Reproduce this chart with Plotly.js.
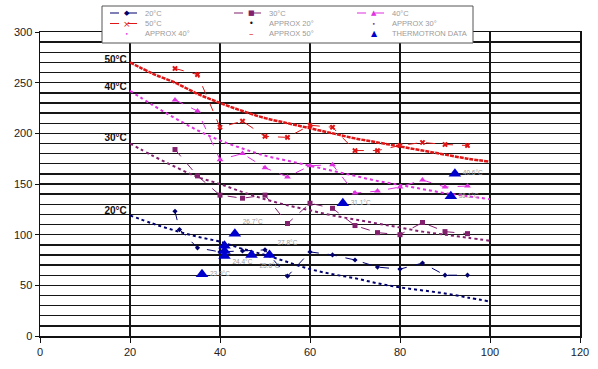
<!DOCTYPE html>
<html>
<head>
<meta charset="utf-8">
<script src="https://cdn.plot.ly/plotly-3.0.1.min.js"></script>
<style>html,body{margin:0;padding:0;background:#fff;}#chart{width:598px;height:369px;}</style>
</head>
<body>
<div id="chart"></div>
<script>
// ---- data ----
const approxX = [20,25,30,35,40,45,50,55,60,65,70,75,80,85,90,95,100];
const approx20 = [119,111,104,98,93,86,80,73,66,61,57,52,48,45,42,38,34];
const approx30 = [190,178,167,157,150,142,135,129,124,119,115,111,107,103,100,97,94];
const approx40 = [242,228,215,203,193,185,178,173,168,163,158,153,149,145,141,138,135];
const approx50 = [270,259,250,239,230,222,215,210,205,200,195,191,187,183,179,175,172];

const measX = [30,35,40,45,50,55,60,65,70,75,80,85,90,95];
const meas20X = [30,31,35,40,45,50,55,60,65,70,75,80,85,90,95];
const meas20 = [123,105,87,83,84,85,59,83,80,75,68,66,72,60,60];
const meas30 = [184,158,139,136,139,111,131,126,109,102,100,112,103,101];
const meas40 = [233,222,174,180,166,157,168,169,141,143,147,154,147,148];
const meas50 = [264,258,206,212,197,196,208,206,183,183,188,191,189,188];

const thermoX = [36,41,41,41,43.3,47,51,67.3,91.3,92.2];
const thermoY = [61,89,84,79,101,80,80,131,138,160];
const thermoLabels = ["23.9°C","","24.4°C","","26.7°C","25.6°C","27.8°C","31.1°C","36.1°C","40.6°C"];
const thermoLabelPos = ["middle right","middle right","bottom right","middle right","top right","bottom right","top right","middle right","middle right","middle right"];

const curveLabelX = [16.8,16.8,16.8,16.8];
const curveLabelY = [272,245,195,123];
const curveLabels = ["50°C","40°C","30°C","20°C"];

const seriesNames = ["20°C","30°C","40°C","50°C","APPROX 20°","APPROX 30°","APPROX 40°","APPROX 50°","THERMOTRON DATA"];

const xTicks = [0,20,40,60,80,100,120];
const yTicks = [0,50,100,150,200,250,300];

// ---- styles ----
const NAVY='#00006e', PURPLE='#82206e', MAGENTA='#e030e0', RED='#e01515', BLUE='#0000cc';
const FONT='Liberation Sans, Arial, sans-serif';

const traces = [
  {x:approxX, y:approx20, mode:'lines', line:{color:NAVY, width:2, dash:'dot', shape:'spline'}, name:seriesNames[4]},
  {x:approxX, y:approx30, mode:'lines', line:{color:PURPLE, width:2, dash:'dot', shape:'spline'}, name:seriesNames[5]},
  {x:approxX, y:approx40, mode:'lines', line:{color:MAGENTA, width:2, dash:'dot', shape:'spline'}, name:seriesNames[6]},
  {x:approxX, y:approx50, mode:'lines', line:{color:RED, width:2.5, dash:'4px,1px', shape:'spline'}, name:seriesNames[7]},
  {x:meas20X, y:meas20, mode:'lines+markers', line:{color:NAVY, width:1, dash:'dash'}, marker:{symbol:'diamond', size:4, color:NAVY}, name:seriesNames[0]},
  {x:measX, y:meas30, mode:'lines+markers', line:{color:PURPLE, width:1, dash:'dash'}, marker:{symbol:'square', size:5, color:PURPLE}, name:seriesNames[1]},
  {x:measX, y:meas40, mode:'lines+markers', line:{color:MAGENTA, width:1, dash:'dash'}, marker:{symbol:'triangle-up', size:6, color:MAGENTA}, name:seriesNames[2]},
  {x:measX, y:meas50, mode:'lines+markers', line:{color:RED, width:1, dash:'dash'}, marker:{symbol:'x', size:5, color:RED}, name:seriesNames[3]},
  {x:thermoX, y:thermoY, mode:'markers+text', text:thermoLabels, textposition:thermoLabelPos,
   textfont:{family:FONT, size:6.5, color:'#9a9a9a'}, marker:{symbol:'triangle-up', size:11, color:BLUE}, name:seriesNames[8], cliponaxis:false},
  {x:curveLabelX, y:curveLabelY, mode:'text', text:curveLabels, textfont:{family:FONT, size:10, color:'#111', weight:'bold'}, cliponaxis:false, hoverinfo:'skip'}
];
traces.forEach(t=>t.showlegend=false);

// ---- custom compact legend (pixel layout -> paper coords) ----
const L=40, R=580, T=32, B=336;
const px = v => (v-L)/(R-L);
const py = v => (B-v)/(B-T);
const legendItems = [
  {i:0, col:0, row:0, color:NAVY, dash:true, glyph:'◆', gs:7},
  {i:1, col:1, row:0, color:PURPLE, dash:true, glyph:'■', gs:7},
  {i:2, col:2, row:0, color:MAGENTA, dash:true, glyph:'▲', gs:7},
  {i:3, col:0, row:1, color:RED, dash:true, glyph:'×', gs:9},
  {i:4, col:1, row:1, color:'#111', dash:false, glyph:'•', gs:8},
  {i:5, col:2, row:1, color:PURPLE, dash:false, glyph:'•', gs:6},
  {i:6, col:0, row:2, color:MAGENTA, dash:false, glyph:'•', gs:6},
  {i:7, col:1, row:2, color:RED, dash:false, glyph:'–', gs:9},
  {i:8, col:2, row:2, color:BLUE, dash:false, glyph:'▲', gs:8}
];
const colSym = [127, 251, 374], colText = [143, 267, 390], rowY = [13, 23.5, 33.5];
const shapes = [{type:'rect', xref:'paper', yref:'paper', x0:px(102), x1:px(473), y0:py(6), y1:py(43),
  fillcolor:'#fff', line:{color:'#555', width:1}, layer:'above'}];
const annotations = [];
legendItems.forEach(it=>{
  const cx = colSym[it.col], cy = rowY[it.row];
  if (it.dash) shapes.push({type:'line', xref:'paper', yref:'paper', x0:px(cx-17), x1:px(cx+17), y0:py(cy), y1:py(cy),
    line:{color:it.color, width:1.2, dash:'dash'}, layer:'above'});
  annotations.push({xref:'paper', yref:'paper', x:px(cx), y:py(cy), text:it.glyph, showarrow:false,
    xanchor:'center', yanchor:'middle', font:{family:'DejaVu Sans', size:it.gs, color:it.color}});
  annotations.push({xref:'paper', yref:'paper', x:px(colText[it.col]), y:py(cy), text:seriesNames[it.i], showarrow:false,
    xanchor:'left', yanchor:'middle', font:{family:FONT, size:7.5, color:'#9a9a9a'}});
});

const gridCol = '#161616';
const layout = {
  width:598, height:369,
  margin:{l:L, r:598-R, t:T, b:369-B, pad:0},
  paper_bgcolor:'#fff', plot_bgcolor:'#fff',
  font:{family:FONT, size:11, color:'#222'},
  showlegend:false,
  xaxis:{range:[0,120], tickvals:xTicks, ticktext:xTicks.map(String), showgrid:true, gridcolor:gridCol, gridwidth:1.5,
    zeroline:false, showline:true, linecolor:'#111', linewidth:1.5, mirror:true, ticks:'outside', ticklen:5, tickcolor:'#111',
    tickfont:{family:FONT, size:11, color:'#222'}},
  yaxis:{range:[0,300], tickvals:yTicks, ticktext:yTicks.map(String), showgrid:true, gridcolor:gridCol, gridwidth:1.4,
    zeroline:false, showline:true, linecolor:'#111', linewidth:1.5, mirror:true, ticks:'outside', ticklen:4, tickcolor:'#111',
    tickfont:{family:FONT, size:11, color:'#222'},
    minor:{dtick:10, showgrid:true, gridcolor:gridCol, gridwidth:1.4, ticks:''}},
  shapes:shapes,
  annotations:annotations
};
Plotly.newPlot('chart', traces, layout, {staticPlot:true, displayModeBar:false});
</script>
</body>
</html>
